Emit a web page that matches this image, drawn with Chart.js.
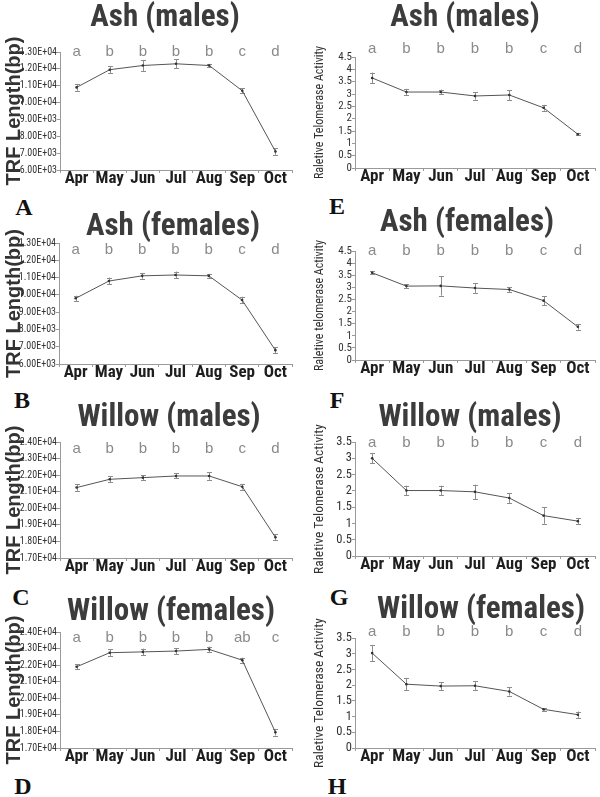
<!DOCTYPE html>
<html>
<head>
<meta charset="utf-8">
<script src="https://cdn.jsdelivr.net/npm/chart.js@4.4.0/dist/chart.umd.min.js"></script>
<style>
  body { margin: 0; background: #fff; }
  #fig { position: relative; width: 600px; height: 797px; overflow: hidden; }
  #fig canvas { position: absolute; }
  .tag { position: absolute; font: bold 24px "Liberation Serif", "Times New Roman", serif; color: #111; transform: translate(-50%, -50%); line-height: 1; }
</style>
</head>
<body>
<div id="fig">
  <div class="tag" style="left:24px;top:207px">A</div>
  <div class="tag" style="left:22px;top:400px">B</div>
  <div class="tag" style="left:21px;top:597px">C</div>
  <div class="tag" style="left:23px;top:786px">D</div>
  <div class="tag" style="left:337px;top:206px">E</div>
  <div class="tag" style="left:337px;top:400px">F</div>
  <div class="tag" style="left:339px;top:597px">G</div>
  <div class="tag" style="left:337px;top:786px">H</div>
</div>
<script>
// data

var months = ["Apr", "May", "Jun", "Jul", "Aug", "Sep", "Oct"];

var ashMaleTrf = [10900, 11950, 12200, 12300, 12200, 10700, 7100];
var ashMaleTrfErr = [200, 220, 320, 270, 100, 150, 200];
var ashFemaleTrf = [9800, 10800, 11100, 11150, 11100, 9700, 6800];
var ashFemaleTrfErr = [150, 200, 170, 200, 120, 190, 180];
var willowMaleTrf = [21250, 21750, 21850, 21950, 21950, 21300, 18250];
var willowMaleTrfErr = [200, 175, 150, 150, 230, 175, 175];
var willowFemaleTrf = [21900, 22750, 22800, 22850, 22950, 22300, 17950];
var willowFemaleTrfErr = [150, 200, 200, 185, 175, 150, 200];

var ashMaleRta = [3.65, 3.08, 3.08, 2.92, 2.96, 2.44, 1.37];
var ashMaleRtaErr = [0.22, 0.13, 0.1, 0.15, 0.2, 0.12, 0.05];
var ashFemaleRta = [3.6, 3.05, 3.06, 2.97, 2.91, 2.45, 1.37];
var ashFemaleRtaErr = [0.06, 0.07, 0.4, 0.2, 0.1, 0.18, 0.12];
var willowMaleRta = [3.0, 2.01, 2.01, 1.97, 1.78, 1.24, 1.07];
var willowMaleRtaErr = [0.15, 0.15, 0.15, 0.22, 0.15, 0.25, 0.1];
var willowFemaleRta = [3.02, 2.03, 1.97, 1.98, 1.8, 1.23, 1.06];
var willowFemaleRtaErr = [0.25, 0.2, 0.13, 0.15, 0.13, 0.04, 0.1];

var groupLetters = ["a", "b", "b", "b", "b", "c", "d"];
var groupLettersWf = ["a", "b", "b", "b", "b", "ab", "c"];

var trfTicksAsh = [6000, 13000, 1000];
var trfTicksWillow = [17000, 24000, 1000];
var rtaTicksAsh = [0, 4.5, 0.5];
var rtaTicksWillow = [0, 3.5, 0.5];

var NARROW = '"Roboto Condensed", "Open Sans Condensed", "Liberation Sans", sans-serif';
var SANS = '"Liberation Sans", Arial, sans-serif';

// panel layout (page pixels): area = [left, top, right, bottom] of plot
var panels = [
  { title: "Ash (males)", values: ashMaleTrf, errors: ashMaleTrfErr, letters: groupLetters, ticks: trfTicksAsh, kind: "trf",
    col: 0, canvasTop: 0, area: [60, 52, 292, 168], titleAt: [165, 18], letterY: 52 },
  { title: "Ash (females)", values: ashFemaleTrf, errors: ashFemaleTrfErr, letters: groupLetters, ticks: trfTicksAsh, kind: "trf",
    col: 0, canvasTop: 198, area: [59, 243, 292, 362], titleAt: [173, 227], letterY: 250 },
  { title: "Willow (males)", values: willowMaleTrf, errors: willowMaleTrfErr, letters: groupLetters, ticks: trfTicksWillow, kind: "trf",
    col: 0, canvasTop: 395, area: [60, 442, 292, 556], titleAt: [169, 418], letterY: 449 },
  { title: "Willow (females)", values: willowFemaleTrf, errors: willowFemaleTrfErr, letters: groupLettersWf, ticks: trfTicksWillow, kind: "trf",
    col: 0, canvasTop: 588, area: [60, 632, 292, 746], titleAt: [171, 612], letterY: 638 },
  { title: "Ash (males)", values: ashMaleRta, errors: ashMaleRtaErr, letters: groupLetters, ticks: rtaTicksAsh, kind: "rta",
    yTitle: "Raletive Telomerase Activity", yTitleSize: 12, tickSize: 11,
    col: 1, canvasTop: 0, area: [355, 57, 595, 166], titleAt: [465, 18], letterY: 49 },
  { title: "Ash (females)", values: ashFemaleRta, errors: ashFemaleRtaErr, letters: groupLetters, ticks: rtaTicksAsh, kind: "rta",
    yTitle: "Raletive telomerase Activity", yTitleSize: 12, tickSize: 11,
    col: 1, canvasTop: 198, area: [355, 251, 595, 358], titleAt: [467, 223], letterY: 251 },
  { title: "Willow (males)", values: willowMaleRta, errors: willowMaleRtaErr, letters: groupLetters, ticks: rtaTicksWillow, kind: "rta",
    yTitle: "Raletive Telomerase Activity", yTitleSize: 13.5, tickSize: 12.5,
    col: 1, canvasTop: 395, area: [355, 442, 595, 554], titleAt: [470, 418], letterY: 443 },
  { title: "Willow (females)", values: willowFemaleRta, errors: willowFemaleRtaErr, letters: groupLetters, ticks: rtaTicksWillow, kind: "rta",
    yTitle: "Raletive Telomerase Activity", yTitleSize: 13.5, tickSize: 12.5,
    col: 1, canvasTop: 588, area: [355, 638, 595, 746], titleAt: [481, 610], letterY: 632 }
];

function sciLabel(v) {
  var p = Number(v).toExponential(2).split("e");
  var e = parseInt(p[1], 10);
  return p[0] + "E" + (e < 0 ? "-" : "+") + String(Math.abs(e)).padStart(2, "0");
}

var errorBarPlugin = {
  id: "errorBars",
  beforeDatasetsDraw: function (chart, args, opts) {
    var ctx = chart.ctx;
    var yScale = chart.scales.y;
    var meta = chart.getDatasetMeta(0);
    var values = chart.data.datasets[0].data;
    ctx.save();
    ctx.strokeStyle = opts.color;
    ctx.lineWidth = 1;
    meta.data.forEach(function (pt, i) {
      var hi = yScale.getPixelForValue(values[i] + opts.errors[i]);
      var lo = yScale.getPixelForValue(values[i] - opts.errors[i]);
      var x = Math.round(pt.x) + 0.5;
      ctx.beginPath();
      ctx.moveTo(x, hi); ctx.lineTo(x, lo);
      ctx.moveTo(x - 2.5, Math.round(hi) + 0.5); ctx.lineTo(x + 2.5, Math.round(hi) + 0.5);
      ctx.moveTo(x - 2.5, Math.round(lo) + 0.5); ctx.lineTo(x + 2.5, Math.round(lo) + 0.5);
      ctx.stroke();
    });
    ctx.restore();
  }
};

var letterPlugin = {
  id: "sigLetters",
  afterDraw: function (chart, args, opts) {
    var ctx = chart.ctx;
    var xScale = chart.scales.x;
    ctx.save();
    ctx.font = "15px " + SANS;
    ctx.fillStyle = "#8a8a8a";
    ctx.textAlign = "center";
    ctx.textBaseline = "middle";
    opts.letters.forEach(function (s, i) {
      ctx.fillText(s, xScale.getPixelForValue(i), opts.y);
    });
    ctx.restore();
  }
};

var titlePlugin = {
  id: "panelTitle",
  afterDraw: function (chart, args, opts) {
    var ctx = chart.ctx;
    ctx.save();
    ctx.font = "bold 31px " + NARROW;
    ctx.fillStyle = "#3c3c3c";
    ctx.textAlign = "center";
    ctx.textBaseline = "middle";
    ctx.fillText(opts.text, opts.x, opts.y);
    ctx.restore();
  }
};

var fig = document.getElementById("fig");

panels.forEach(function (p, n) {
  var colLeft = p.col * 300;
  var w = 300;
  var h = p.area[3] - p.canvasTop + 24;
  var canvas = document.createElement("canvas");
  canvas.width = w;
  canvas.height = h;
  canvas.style.left = colLeft + "px";
  canvas.style.top = p.canvasTop + "px";
  fig.appendChild(canvas);

  var yAxisWidth = p.area[0] - colLeft;
  var isTrf = p.kind === "trf";

  new Chart(canvas.getContext("2d"), {
    type: "line",
    data: {
      labels: months,
      datasets: [{
        data: p.values,
        borderColor: "#555",
        borderWidth: 1,
        tension: 0,
        pointRadius: 1.3,
        pointBackgroundColor: "#333",
        pointBorderWidth: 0,
        fill: false
      }]
    },
    plugins: [errorBarPlugin, letterPlugin, titlePlugin],
    options: {
      responsive: false,
      animation: false,
      layout: {
        padding: { left: 0, top: p.area[1] - p.canvasTop, right: colLeft + w - p.area[2], bottom: 0 }
      },
      plugins: {
        legend: { display: false },
        tooltip: { enabled: false },
        errorBars: { errors: p.errors, color: "#8c8c8c" },
        sigLetters: { letters: p.letters, y: p.letterY - p.canvasTop },
        panelTitle: { text: p.title, x: p.titleAt[0] - colLeft, y: p.titleAt[1] - p.canvasTop }
      },
      scales: {
        x: {
          offset: true,
          grid: { display: true, offset: true, drawOnChartArea: false, drawTicks: true, tickLength: 3, color: "#9a9a9a" },
          border: { display: true, color: "#9a9a9a" },
          ticks: {
            autoSkip: false,
            maxRotation: 0,
            padding: -3,
            color: "#1e1e1e",
            font: { family: NARROW, size: 17, weight: "bold", lineHeight: 1 }
          },
          afterFit: function (scale) { scale.height = 22; }
        },
        y: {
          min: p.ticks[0],
          max: p.ticks[1],
          grid: { display: true, drawOnChartArea: false, drawTicks: true, tickLength: 3, color: "#9a9a9a" },
          border: { display: true, color: "#9a9a9a" },
          ticks: {
            stepSize: p.ticks[2],
            autoSkip: false,
            padding: 0,
            color: "#333",
            font: { family: NARROW, size: isTrf ? 10 : p.tickSize, lineHeight: 1 },
            callback: function (v) { return isTrf ? sciLabel(v) : String(v); }
          },
          title: {
            display: true,
            text: isTrf ? "TRF Length(bp)" : p.yTitle,
            color: "#333",
            font: isTrf ? { family: SANS, size: 20, weight: "bold", lineHeight: 1 }
                        : { family: NARROW, size: p.yTitleSize, lineHeight: 1 },
            padding: { top: isTrf ? 4 : 20 - p.yTitleSize / 2, bottom: 0 }
          },
          afterFit: function (scale) { scale.width = yAxisWidth; }
        }
      }
    }
  });
});
</script>
</body>
</html>
